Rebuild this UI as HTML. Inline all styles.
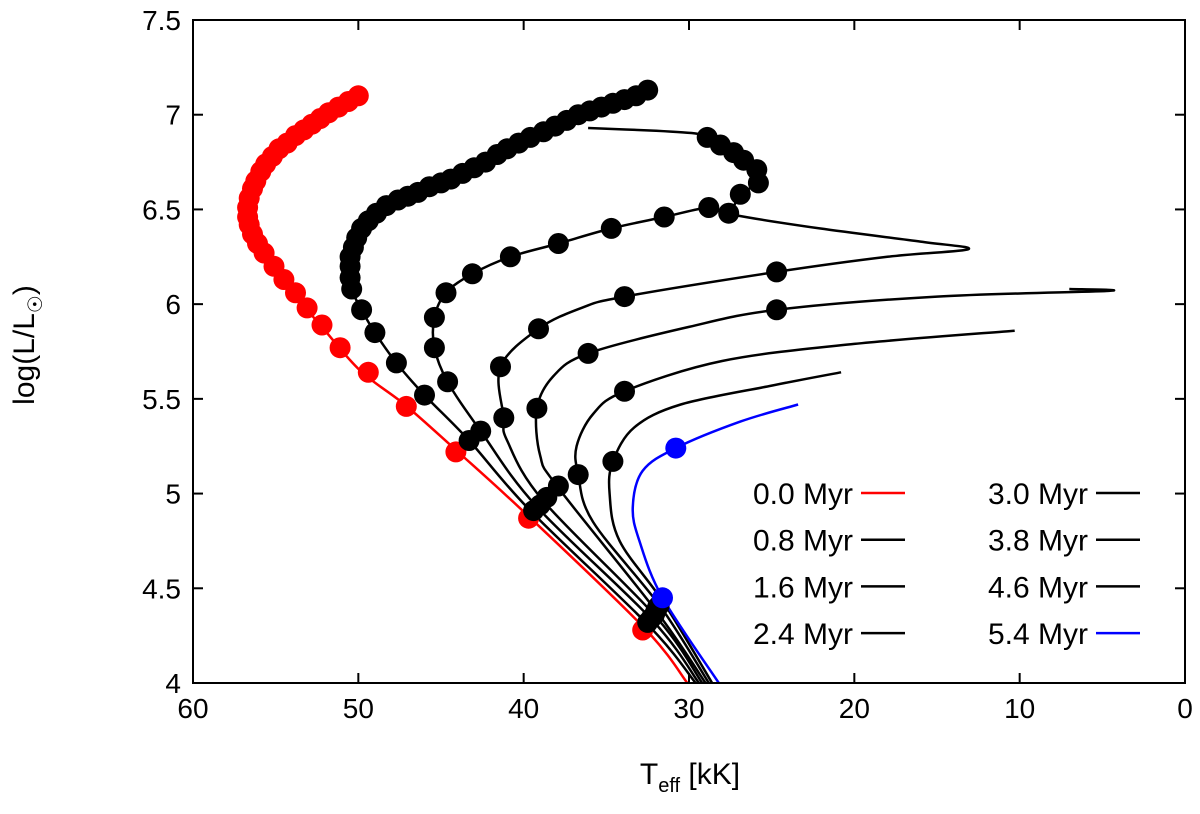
<!DOCTYPE html>
<html><head><meta charset="utf-8"><style>
body{margin:0;background:#fff}
svg text{font-family:"Liberation Sans",sans-serif;fill:#000}
</style></head><body>
<svg id="c" width="1200" height="809" xmlns="http://www.w3.org/2000/svg">
<g id="marks"></g>
<rect x="193" y="20" width="992" height="663" fill="none" stroke="#000" stroke-width="2"/>
<g id="axes"></g>
<text x="690" y="784" font-size="30" text-anchor="middle">T<tspan font-size="20" dy="8">eff</tspan><tspan dy="-8"> [kK]</tspan></text>
<text transform="translate(34,345) rotate(-90)" font-size="30" text-anchor="middle">log(L/L<tspan font-size="20" dy="8">☉</tspan><tspan dy="-8">)</tspan></text>
<g id="legend"></g>
</svg>
<script>
const xTicks=[60,50,40,30,20,10,0];
const yTicks=[4,4.5,5,5.5,6,6.5,7,7.5];
const yTickLabels=["4","4.5","5","5.5","6","6.5","7","7.5"];
const labels=["0.0 Myr","0.8 Myr","1.6 Myr","2.4 Myr","3.0 Myr","3.8 Myr","4.6 Myr","5.4 Myr"];
const colors=["#ff0000","#000","#000","#000","#000","#000","#000","#0000ff"];
const line00=[[50.0,7.10],[52.3,7.0],[54.4,6.87],[55.8,6.73],[56.6,6.60],[56.7,6.47],[56.4,6.34],[55.6,6.22],[54.4,6.10],[52.3,5.89],[49.9,5.65],[47.2,5.47],[44.1,5.23],[39.7,4.88],[32.7,4.29],[30.1,4.0]];
const line08=[[29.6,4],[32.4,4.3],[39.6,4.91],[43.3,5.28],[46.0,5.52],[47.7,5.69],[49.0,5.85],[49.8,5.97],[50.4,6.08],[50.5,6.20],[50.3,6.30],[49.8,6.40],[48.9,6.48],[47.5,6.55],[45.7,6.62],[43.7,6.69],[41.6,6.79],[39.6,6.88],[37.6,6.96],[35.6,7.04],[32.5,7.13]];
const line16=[[29.4,4],[32.2,4.33],[39.2,4.93],[42.6,5.33],[44.6,5.59],[45.4,5.77],[45.4,5.93],[44.7,6.06],[43.1,6.16],[40.8,6.25],[37.9,6.32],[34.7,6.40],[31.5,6.46],[28.8,6.51],[27.6,6.48],[26.9,6.58],[25.8,6.64],[25.9,6.71],[26.7,6.76],[27.3,6.80],[28.1,6.84],[28.9,6.88],[29.5,6.90],[32.0,6.915],[36.1,6.93]];
const line24=[[29.2,4],[32.0,4.35],[38.8,4.96],[41.0,5.28],[41.2,5.40],[41.4,5.67],[39.1,5.87],[36.5,5.98],[33.9,6.04],[24.7,6.17],[18.0,6.25],[13.1,6.29],[16.0,6.33],[22.1,6.40],[27.2,6.47],[28.8,6.51]];
const line30=[[29.0,4],[31.9,4.37],[37.9,5.03],[39.0,5.2],[39.2,5.45],[38.2,5.62],[36.1,5.74],[30.0,5.88],[24.7,5.97],[15.0,6.04],[4.6,6.07],[7.0,6.08]];
const line38=[[28.8,4],[31.7,4.40],[35.8,4.85],[36.7,5.10],[36.8,5.25],[35.8,5.42],[33.9,5.54],[28.0,5.70],[20.0,5.79],[10.3,5.86]];
const line46=[[28.6,4],[31.5,4.42],[34.2,4.75],[34.8,5.0],[34.6,5.17],[33.3,5.35],[30.5,5.47],[25.0,5.57],[20.8,5.64]];
const line54=[[28.2,4],[31.6,4.45],[33.0,4.75],[33.4,4.93],[32.8,5.12],[30.8,5.24],[26.9,5.38],[23.4,5.47]];
const dots00=[[50.0,7.10],[50.6,7.07],[51.2,7.04],[51.8,7.01],[52.3,6.98],[52.8,6.95],[53.3,6.92],[53.8,6.89],[54.3,6.85],[54.8,6.82],[55.2,6.78],[55.6,6.74],[55.9,6.70],[56.2,6.65],[56.4,6.61],[56.6,6.56],[56.7,6.51],[56.7,6.46],[56.6,6.42],[56.4,6.37],[56.1,6.32],[55.7,6.27],[55.1,6.20],[54.5,6.13],[53.8,6.06],[53.1,5.98],[52.2,5.89],[51.1,5.77],[49.4,5.64],[47.1,5.46],[44.1,5.22],[39.7,4.87],[32.8,4.28]];
const dots08=[[32.5,7.13],[33.2,7.10],[33.9,7.08],[34.6,7.06],[35.3,7.04],[36.0,7.02],[36.7,7.00],[37.4,6.97],[38.1,6.94],[38.8,6.91],[39.6,6.88],[40.3,6.85],[41.0,6.82],[41.6,6.79],[42.3,6.75],[43.0,6.72],[43.7,6.69],[44.4,6.66],[45.0,6.64],[45.7,6.62],[46.4,6.59],[47.0,6.57],[47.6,6.55],[48.3,6.52],[48.9,6.48],[49.4,6.44],[49.8,6.40],[50.1,6.35],[50.3,6.30],[50.5,6.25],[50.5,6.20],[50.5,6.14],[50.4,6.08],[49.8,5.97],[49.0,5.85],[47.7,5.69],[46.0,5.52],[43.3,5.28],[39.4,4.91],[32.5,4.32]];
const dots16=[[42.6,5.33],[44.6,5.59],[45.4,5.77],[45.4,5.93],[44.7,6.06],[43.1,6.16],[40.8,6.25],[37.9,6.32],[34.7,6.40],[31.5,6.46],[28.8,6.51],[27.6,6.48],[26.9,6.58],[25.8,6.64],[25.9,6.71],[26.7,6.76],[27.3,6.80],[28.1,6.84],[28.9,6.88],[39.0,4.94],[32.3,4.34]];
const dots24=[[41.2,5.40],[41.4,5.67],[39.1,5.87],[33.9,6.04],[24.7,6.17],[38.6,4.98],[32.1,4.36]];
const dots30=[[39.2,5.45],[36.1,5.74],[24.7,5.97],[37.9,5.04],[32.0,4.38]];
const dots38=[[36.7,5.10],[33.9,5.54],[31.9,4.40]];
const dots46=[[34.6,5.17],[31.8,4.41]];
const dots54=[[31.6,4.45],[30.8,5.24]];
const lines=[line00,line08,line16,line24,line30,line38,line46,line54];
const dotSets=[dots00,dots08,dots16,dots24,dots30,dots38,dots46,dots54];

const NS="http://www.w3.org/2000/svg";
const X0=193,X1=1185,Y0=683,Y1=20;
const sx=t=>X1-(t-0)*(X1-X0)/60;
const sy=l=>Y0-(l-4)*(Y0-Y1)/3.5;
function mk(tag,attrs,parent){const e=document.createElementNS(NS,tag);for(const k in attrs)e.setAttribute(k,attrs[k]);parent.appendChild(e);return e;}
function smoothPath(pts){
  let d="M"+pts[0][0].toFixed(1)+","+pts[0][1].toFixed(1);
  for(let i=0;i<pts.length-1;i++){
    const p0=pts[i-1]||pts[i],p1=pts[i],p2=pts[i+1],p3=pts[i+2]||p2;
    const k=1/6;
    const c1=[p1[0]+(p2[0]-p0[0])*k,p1[1]+(p2[1]-p0[1])*k];
    const c2=[p2[0]-(p3[0]-p1[0])*k,p2[1]-(p3[1]-p1[1])*k];
    d+=" C"+c1[0].toFixed(1)+","+c1[1].toFixed(1)+" "+c2[0].toFixed(1)+","+c2[1].toFixed(1)+" "+p2[0].toFixed(1)+","+p2[1].toFixed(1);
  }
  return d;
}
const marks=document.getElementById('marks'),axes=document.getElementById('axes'),leg=document.getElementById('legend');
lines.forEach((ln,i)=>{
  const pts=ln.map(d=>[sx(d[0]),sy(d[1])]);
  const p=mk('path',{d:smoothPath(pts),fill:"none",stroke:colors[i],"stroke-width":2.5,"stroke-linejoin":"round"},marks);
  
  
});
dotSets.forEach((ds,i)=>{
  ds.forEach(d=>{
    const c=mk('circle',{cx:sx(d[0]).toFixed(1),cy:sy(d[1]).toFixed(1),r:10.5,fill:colors[i]},marks);
    
    
  });
});
xTicks.forEach(t=>{
  const x=sx(t);
  const a=mk('line',{x1:x,x2:x,y1:Y0,y2:Y0-10,stroke:"#000","stroke-width":2},axes);
  
  
  mk('line',{x1:x,x2:x,y1:Y1,y2:Y1+10,stroke:"#000","stroke-width":2},axes);
  const tx=mk('text',{x:x,y:Y0+35,"font-size":28,"text-anchor":"middle"},axes);
  tx.textContent=String(t);
  
  
});
yTicks.forEach((v,i)=>{
  const y=sy(v);
  const a=mk('line',{x1:X0,x2:X0+10,y1:y,y2:y,stroke:"#000","stroke-width":2},axes);
  
  
  mk('line',{x1:X1,x2:X1-10,y1:y,y2:y,stroke:"#000","stroke-width":2},axes);
  const tx=mk('text',{x:X0-12,y:y+10,"font-size":28,"text-anchor":"end"},axes);
  tx.textContent=yTickLabels[i];
  
  
});
labels.forEach((lb,i)=>{
  const col=Math.floor(i/4),row=i%4;
  const tx0=col?1088:853, y=493+row*46.7;
  const g=mk('g',{},leg);
  
  
  const t=mk('text',{x:tx0,y:y+11,"font-size":30,"text-anchor":"end"},g);
  t.textContent=lb;
  mk('line',{x1:tx0+8,x2:tx0+52,y1:y,y2:y,stroke:colors[i],"stroke-width":2.5},g);
});
</script>
</body></html>
